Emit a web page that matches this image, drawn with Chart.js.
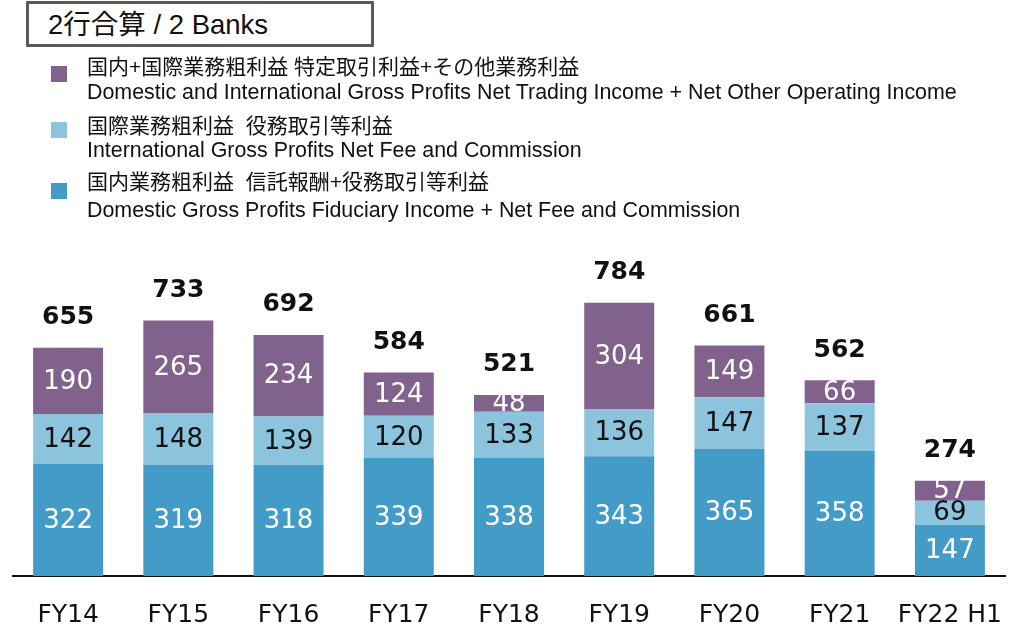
<!DOCTYPE html>
<html lang="ja">
<head>
  <meta charset="UTF-8">
  <title>2行合算 / 2 Banks</title>
  <script src="https://cdn.jsdelivr.net/npm/chart.js@4.4.0/dist/chart.umd.min.js"></script>
  <style>
    body { margin: 0; background: #fff; }
    #wrap { position: relative; width: 1020px; height: 627px; overflow: hidden; }
    #chart { position: absolute; left: 0; top: 0; }
    .box {
      position: absolute; left: 26px; top: 1px; width: 348px; height: 46px;
      border: 3px solid #595959; background: #fff; box-sizing: border-box;
      font: 27.5px "Liberation Sans", "Noto Sans CJK JP", sans-serif; color: #111;
      line-height: 42px; padding-left: 19px;
    }
    .sw { position: absolute; left: 51px; width: 16px; height: 16px; }
    .lt {
      position: absolute; left: 87px; white-space: nowrap;
      font: 21px "Liberation Sans", "Noto Sans CJK JP", sans-serif; color: #111; line-height: 24px;
    }
    .lt.en { font-size: 21.4px; }
  </style>
</head>
<body>
<div id="wrap">
  <canvas id="chart" width="1020" height="627"></canvas>
  <div class="box">2行合算 / 2 Banks</div>
  <div class="sw" style="top:66px;background:#80628d"></div>
  <div class="lt" style="top:55px">国内+国際業務粗利益 特定取引利益+その他業務利益</div>
  <div class="lt en" style="top:80px">Domestic and International Gross Profits Net Trading Income + Net Other Operating Income</div>
  <div class="sw" style="top:122px;background:#8cc4de"></div>
  <div class="lt" style="top:114px">国際業務粗利益&nbsp;&nbsp;役務取引等利益</div>
  <div class="lt en" style="top:138px">International Gross Profits Net Fee and Commission</div>
  <div class="sw" style="top:183px;background:#439cc8"></div>
  <div class="lt" style="top:170px">国内業務粗利益&nbsp;&nbsp;信託報酬+役務取引等利益</div>
  <div class="lt en" style="top:198px">Domestic Gross Profits Fiduciary Income + Net Fee and Commission</div>
</div>

<script>
  // categories and values (100 million yen)
  const years = ["FY14", "FY15", "FY16", "FY17", "FY18", "FY19", "FY20", "FY21", "FY22 H1"];
  const domesticFee = [322, 319, 318, 339, 338, 343, 365, 358, 147];
  const intlFee = [142, 148, 139, 120, 133, 136, 147, 137, 69];
  const tradingOther = [190, 265, 234, 124, 48, 304, 149, 66, 57];
  const totals = [655, 733, 692, 584, 521, 784, 661, 562, 274];

  const labelColors = ["#ffffff", "#111111", "#ffffff"];

  // draws segment values and totals on top of bars
  const barLabels = {
    id: "barLabels",
    afterDatasetsDraw(chart) {
      const ctx = chart.ctx;
      ctx.save();
      ctx.textAlign = "center";
      ctx.textBaseline = "middle";
      chart.data.datasets.forEach((ds, i) => {
        const meta = chart.getDatasetMeta(i);
        ctx.font = '26px "DejaVu Sans"';
        ctx.fillStyle = labelColors[i];
        meta.data.forEach((bar, j) => {
          ctx.fillText(ds.data[j], bar.x, (bar.y + bar.base) / 2 + 1);
        });
      });
      const top = chart.getDatasetMeta(chart.data.datasets.length - 1);
      ctx.font = 'bold 25px "DejaVu Sans"';
      ctx.fillStyle = "#111";
      top.data.forEach((bar, j) => {
        ctx.fillText(totals[j], bar.x, bar.y - 30);
      });
      ctx.restore();
    }
  };

  new Chart(document.getElementById("chart"), {
    type: "bar",
    data: {
      labels: years,
      datasets: [
        { label: "国内業務粗利益 信託報酬+役務取引等利益", data: domesticFee, backgroundColor: "#439cc8" },
        { label: "国際業務粗利益 役務取引等利益", data: intlFee, backgroundColor: "#8cc4de" },
        { label: "国内+国際業務粗利益 特定取引利益+その他業務利益", data: tradingOther, backgroundColor: "#80628d" }
      ]
    },
    options: {
      responsive: false,
      animation: false,
      layout: { padding: { left: 13, right: 15, top: 262, bottom: 1 } },
      plugins: { legend: { display: false }, tooltip: { enabled: false } },
      datasets: { bar: { categoryPercentage: 1, barPercentage: 0.635, borderWidth: 0 } },
      scales: {
        x: {
          stacked: true,
          grid: { display: false, drawTicks: false },
          border: { display: true, color: "#111", width: 2 },
          ticks: { color: "#111", font: { family: "DejaVu Sans", size: 25 }, padding: 24 },
          afterFit(scale) {
            scale.height = 50;
            scale.paddingLeft = 0;
            scale.paddingRight = 0;
          }
        },
        y: {
          stacked: true,
          display: false,
          min: 0,
          max: 900
        }
      }
    },
    plugins: [barLabels]
  });
</script>
</body>
</html>
